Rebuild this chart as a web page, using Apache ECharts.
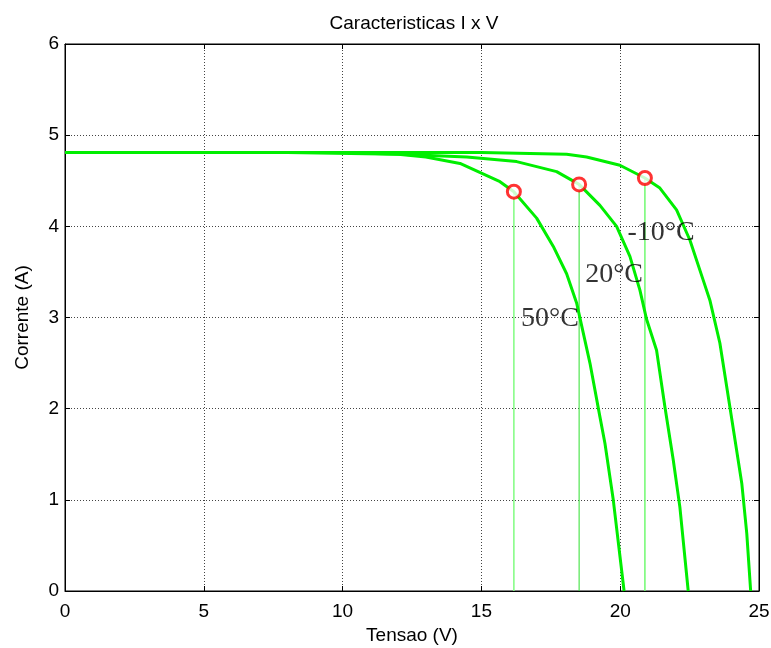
<!DOCTYPE html>
<html>
<head>
<meta charset="utf-8">
<script src="https://cdn.jsdelivr.net/npm/echarts@6/dist/echarts.min.js"></script>
<style>html,body{margin:0;padding:0;background:#fff;}#c{width:771px;height:648px;}</style>
</head>
<body>
<div id="c"></div>
<script>
// Curve data: voltage (V) and current (A)
var v50 = [0, 8, 12, 13, 14.23, 15.67, 16.17, 16.99, 17.59, 18.07, 18.43, 18.91, 19.27, 19.45, 19.75, 20.14];
var i50 = [4.81, 4.81, 4.79, 4.76, 4.69, 4.49, 4.38, 4.09, 3.78, 3.48, 3.16, 2.50, 1.91, 1.62, 1.00, 0];
var v20 = [0, 10, 12.07, 14.47, 16.27, 17.71, 18.52, 19.27, 19.87, 20.35, 20.71, 20.95, 21.31, 21.61, 21.91, 22.15, 22.45];
var i20 = [4.81, 4.81, 4.79, 4.76, 4.71, 4.60, 4.46, 4.23, 4.00, 3.67, 3.30, 2.98, 2.64, 2.02, 1.44, 0.92, 0];
var vm10 = [0, 15, 18.07, 18.79, 19.99, 20.89, 21.43, 22.03, 22.51, 22.99, 23.23, 23.59, 23.95, 24.38, 24.56, 24.70];
var im10 = [4.81, 4.81, 4.79, 4.76, 4.67, 4.53, 4.42, 4.18, 3.85, 3.41, 3.19, 2.72, 2.02, 1.18, 0.63, 0];
// Maximum power points
var mppV = [16.17, 18.52, 20.89];
var mppI = [4.38, 4.46, 4.53];
// Curve labels
var labelText = ['50°C', '20°C', '-10°C'];
var labelV = [17.47, 19.78, 21.47];
var labelI = [2.99, 3.47, 3.93];
// Axis ticks
var xTicks = [0, 5, 10, 15, 20, 25];
var yTicks = [0, 1, 2, 3, 4, 5, 6];

function zip(a, b) { return a.map(function (x, k) { return [x, b[k]]; }); }

var chart = echarts.init(document.getElementById('c'));
var font = 'Liberation Sans, Arial, sans-serif';
var series = [];
var vColors = ['#80fc80', '#2ee02e', '#70fa70'];
var vWidths = [1.5, 1, 1.5];
mppV.forEach(function (v, k) {
  series.push({
    type: 'line', xAxisIndex: 0, yAxisIndex: 0, symbol: 'none', silent: true,
    data: [[v, 0], [v, mppI[k]]],
    lineStyle: { color: vColors[k], width: vWidths[k] }, z: 2
  });
});
[[v50, i50], [v20, i20], [vm10, im10]].forEach(function (c) {
  series.push({
    type: 'line', xAxisIndex: 0, yAxisIndex: 0, symbol: 'none', silent: true,
    data: zip(c[0], c[1]),
    lineStyle: { color: '#00ee00', width: 3 }, z: 3
  });
});
series.push({
  type: 'scatter', xAxisIndex: 0, yAxisIndex: 0, silent: true,
  data: zip(mppV, mppI), symbol: 'circle', symbolSize: 13,
  itemStyle: { color: '#ffffff', borderColor: '#ff0000', borderWidth: 3 }, z: 5
});
series.push({
  type: 'scatter', xAxisIndex: 0, yAxisIndex: 0, silent: true, symbolSize: 0,
  data: labelV.map(function (v, k) { return { value: [v, labelI[k]], name: labelText[k] }; }),
  label: {
    show: true, position: 'inside', formatter: '{b}', textBorderWidth: 0,
    fontFamily: 'Liberation Serif, Times New Roman, serif', fontSize: 28, color: '#000'
  }, z: 6
});

var tickStyle = { inside: true, length: 5, lineStyle: { color: '#000', width: 1 } };
var gridLine = { show: true, lineStyle: { color: '#444', width: 1, type: [1, 2] } };

chart.setOption({
  animation: false,
  backgroundColor: '#fff',
  title: {
    text: 'Caracteristicas I x V', left: 409, top: 9, textAlign: 'center',
    textStyle: { fontFamily: font, fontSize: 19, fontWeight: 'normal', color: '#000' }
  },
  grid: { left: 65, right: 12, top: 44, bottom: 57, containLabel: false, outerBoundsMode: 'none',
    show: true, borderColor: '#000', borderWidth: 1, backgroundColor: 'transparent' },
  xAxis: [{
    type: 'value', min: 0, max: 25, interval: 5, position: 'bottom',
    name: 'Tensao (V)', nameLocation: 'middle', nameGap: 35,
    nameTextStyle: { fontFamily: font, fontSize: 19, color: '#000' },
    axisLine: { show: true, onZero: false, lineStyle: { color: '#000' } },
    axisTick: tickStyle, splitLine: gridLine,
    axisLabel: { fontFamily: font, fontSize: 19, color: '#000', margin: 11,
      formatter: function (v) { return xTicks.indexOf(v) >= 0 ? String(v) : ''; } }
  }, {
    type: 'value', min: 0, max: 25, interval: 5, position: 'top',
    axisLine: { show: true, onZero: false, lineStyle: { color: '#000' } },
    axisTick: tickStyle, splitLine: { show: false }, axisLabel: { show: false }
  }],
  yAxis: [{
    type: 'value', min: 0, max: 6, interval: 1, position: 'left',
    name: 'Corrente (A)', nameLocation: 'middle', nameGap: 33, nameRotate: 90,
    nameTextStyle: { fontFamily: font, fontSize: 19, color: '#000' },
    axisLine: { show: true, onZero: false, lineStyle: { color: '#000' } },
    axisTick: tickStyle, splitLine: gridLine,
    axisLabel: { fontFamily: font, fontSize: 19, color: '#000', margin: 6,
      formatter: function (v) { return yTicks.indexOf(v) >= 0 ? String(v) : ''; } }
  }, {
    type: 'value', min: 0, max: 6, interval: 1, position: 'right',
    axisLine: { show: true, onZero: false, lineStyle: { color: '#000' } },
    axisTick: tickStyle, splitLine: { show: false }, axisLabel: { show: false }
  }],
  series: series
});
</script>
</body>
</html>
